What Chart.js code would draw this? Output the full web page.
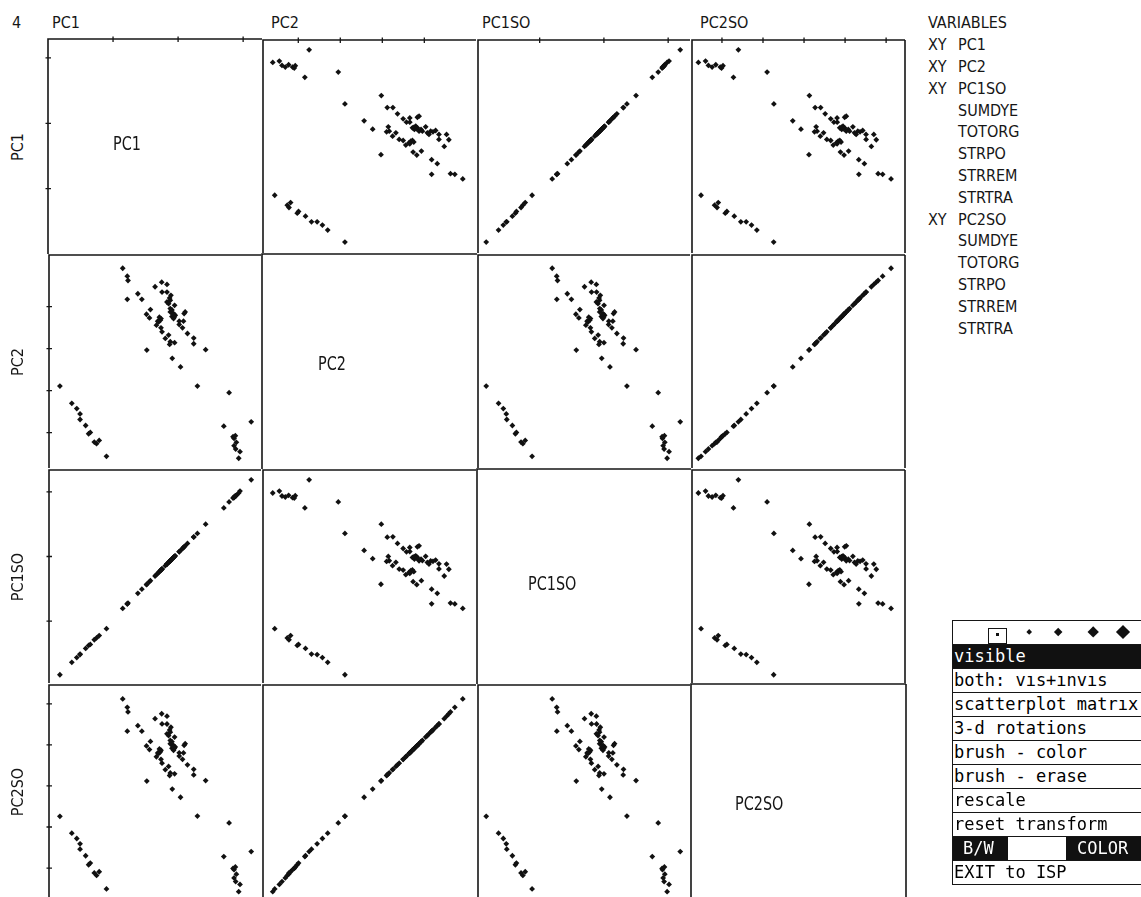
<!DOCTYPE html>
<html>
<head>
<meta charset="utf-8">
<script src="https://cdn.jsdelivr.net/npm/chart.js@4.4.1/dist/chart.umd.min.js"></script>
<style>
  html, body { margin: 0; padding: 0; background: #fff; width: 1141px; height: 897px; overflow: hidden; }
  #stage { position: relative; width: 1141px; height: 897px; overflow: hidden; }
  #stage canvas { position: absolute; }
  .t { position: absolute; white-space: nowrap; color: #161616;
       font-family: "DejaVu Sans Condensed", "Liberation Sans Narrow", "DejaVu Sans", sans-serif;
       font-size: 16px; line-height: 16px; }
  .rot { transform: translate(-50%, -50%) rotate(-90deg); }
  .diag { transform-origin: 0 100%; transform: scaleY(1.25); }
  .menu-row { position: absolute; box-sizing: border-box; border-top: 1.5px solid #161616;
              border-left: 1.5px solid #161616; overflow: hidden; background: #fff; }
  .menu-row span { position: absolute; white-space: nowrap;
       font-family: "DejaVu Sans Mono", "Liberation Mono", monospace; font-size: 17px; line-height: 17px; }
  .blk { background: #111; color: #fff; }
  .sym { position: absolute; background: #111; transform: rotate(45deg); }
</style>
</head>
<body>
<div id="stage"></div>
<script>
// ---- variables of the scatterplot matrix ----
const VARS = ['PC1', 'PC2', 'PC1SO', 'PC2SO'];

const PC1 = [
  0.944, 0.964, 0.897, 0.872, 0.908, 0.872, 0.856, 0.892, 1.138, 0.713, 0.795,
  -1.108, -1.262, -1.297, -1.221, -1.385, -1.359, -1.431, -1.518, -1.518, -1.569, -1.646, -1.831,
  0.303, 0.431, 0.246, 0.246, 0.149, 0.041, -0.087, 0.072, 0.021, 0.021, 0.087, 0.097, 0.113,
  -0.067, -0.092, -0.041, -0.067, -0.118, -0.056, -0.077, -0.092, -0.118, -0.051, -0.144, -0.169,
  -0.118, -0.128, -0.108, -0.169, -0.246, -0.169, -0.251, -0.354, -0.051, -0.118, -0.128, -0.195,
  -0.144, -0.246, -0.262, -0.333, -0.297, -0.272, -0.262, -0.287, -0.313, -0.482, -0.441, -0.487,
  -0.426, -0.559, -0.621, -0.785, -0.774, -0.785, -0.856
];
const PC2 = [
  -2.608, -2.451, -2.388, -2.309, -2.230, -2.136, -2.096, -2.072, -1.742, -1.844, -1.048,
  -2.561, -2.262, -2.222, -2.183, -2.025, -1.994, -1.828, -1.686, -1.552, -1.426, -1.300, -0.890,
  -0.890, -0.024, 0.118, 0.252, 0.362, -0.433, -0.229, 0.496, 0.575, 0.654, 0.654, 0.835, 0.875,
  0.717, 0.764, 0.796, 0.835, 0.875, 0.757, 0.812, 0.922, 0.954, 1.032, 1.072, 1.111,
  1.151, 1.206, 1.269, 1.348, 1.348, 1.529, 1.584, 1.474, 0.142, 0.165, 0.102, 0.244,
  0.323, 0.402, 0.496, 0.559, 0.638, 0.678, 0.717, 0.749, 0.654, -0.032, 0.733, 0.820,
  0.930, 1.174, 1.308, 1.174, 1.623, 1.726, 1.915
];
const PC1SO = [
  0.984, 1.014, 0.937, 0.922, 0.948, 0.912, 0.906, 0.942, 1.188, 0.753, 0.845,
  -1.118, -1.262, -1.290, -1.225, -1.378, -1.362, -1.425, -1.512, -1.520, -1.566, -1.640, -1.832,
  0.358, 0.500, 0.300, 0.305, 0.202, 0.094, -0.034, 0.124, 0.073, 0.076, 0.139, 0.150, 0.166,
  -0.015, -0.040, 0.011, -0.013, -0.066, -0.003, -0.024, -0.041, -0.064, 0.002, -0.092, -0.117,
  -0.068, -0.075, -0.056, -0.114, -0.193, -0.118, -0.198, -0.302, 0.001, -0.066, -0.077, -0.143,
  -0.090, -0.195, -0.210, -0.281, -0.245, -0.220, -0.209, -0.236, -0.262, -0.430, -0.390, -0.436,
  -0.374, -0.506, -0.570, -0.733, -0.722, -0.735, -0.805
];
const PC2SO = [
  -2.575, -2.400, -2.330, -2.240, -2.150, -2.040, -2.010, -1.975, -1.600, -1.720, -0.900,
  -2.510, -2.180, -2.120, -2.090, -1.920, -1.880, -1.700, -1.540, -1.410, -1.280, -1.150, -0.740,
  -0.735, 0.130, 0.270, 0.405, 0.515, -0.275, -0.075, 0.650, 0.728, 0.808, 0.805, 0.990, 1.030,
  0.870, 0.918, 0.950, 0.988, 1.028, 0.910, 0.965, 1.078, 1.110, 1.190, 1.230, 1.270,
  1.310, 1.365, 1.430, 1.510, 1.512, 1.700, 1.760, 1.640, 0.295, 0.318, 0.255, 0.397,
  0.476, 0.555, 0.650, 0.712, 0.792, 0.832, 0.871, 0.902, 0.806, 0.120, 0.887, 0.975,
  1.086, 1.334, 1.470, 1.336, 1.805, 1.915, 2.120
];

// axis extents and tick marks of each variable
const PC1_RANGE = [-2.00, 1.29];
const PC2_RANGE = [-2.84, 2.23];
const PC1SO_RANGE = [-1.96, 1.34];
const PC2SO_RANGE = [-2.73, 2.46];
const PC1_TICKS = [-1, 0, 1];
const PC2_TICKS = [-2, -1, 0, 1];
const PC1SO_TICKS = [-1, 0, 1];
const PC2SO_TICKS = [-2, -1, 0, 1, 2];

// side panel text
const VARIABLE_LIST = [
  ['XY', 'PC1'], ['XY', 'PC2'], ['XY', 'PC1SO'],
  ['', 'SUMDYE'], ['', 'TOTORG'], ['', 'STRPO'], ['', 'STRREM'], ['', 'STRTRA'],
  ['XY', 'PC2SO'],
  ['', 'SUMDYE'], ['', 'TOTORG'], ['', 'STRPO'], ['', 'STRREM'], ['', 'STRTRA']
];
const MENU_ITEMS = [
  'visible', 'both: vıs+ınvıs', 'scatterplot matrıx', '3-d rotations',
  'brush - color', 'brush - erase', 'rescale', 'reset transform'
];

const SERIES = { PC1, PC2, PC1SO, PC2SO };
const RANGES = { PC1: PC1_RANGE, PC2: PC2_RANGE, PC1SO: PC1SO_RANGE, PC2SO: PC2SO_RANGE };
const TICKS = { PC1: PC1_TICKS, PC2: PC2_TICKS, PC1SO: PC1SO_TICKS, PC2SO: PC2SO_TICKS };

// ---- layout of the matrix ----
const COL_X = [48, 262, 477, 691, 906];
const ROW_Y = [39, 254, 469, 684, 899];
const PAD = 3;
const INK = '#161616';
const stage = document.getElementById('stage');

function text(str, x, baseline, cls, size) {
  const d = document.createElement('div');
  d.className = 't' + (cls ? ' ' + cls : '');
  d.textContent = str;
  const fs = size || 16;
  d.style.left = x + 'px';
  d.style.top = (baseline - 0.846 * fs) + 'px';
  stage.appendChild(d);
  return d;
}

// frame lines, inward tick marks and diagonal names
const framePlugin = {
  id: 'frame',
  afterDraw(chart, args, o) {
    const { ctx, chartArea: a, scales } = chart;
    ctx.save();
    ctx.strokeStyle = INK;
    ctx.lineWidth = 1.6;
    ctx.beginPath();
    ctx.moveTo(a.left, a.bottom); ctx.lineTo(a.left, a.top); ctx.lineTo(a.right, a.top);
    if (o.lastCol) { ctx.moveTo(a.right, a.top); ctx.lineTo(a.right, a.bottom); }
    ctx.stroke();
    ctx.lineWidth = 1.3;
    ctx.beginPath();
    (o.topTicks || []).forEach(v => {
      const x = scales.x.getPixelForValue(v);
      ctx.moveTo(x, a.top - 2.5); ctx.lineTo(x, a.top + 3);
    });
    (o.leftTicks || []).forEach(v => {
      const y = scales.y.getPixelForValue(v);
      ctx.moveTo(a.left - 2.5, y); ctx.lineTo(a.left + 3, y);
    });
    ctx.stroke();
    ctx.restore();
  }
};

for (let r = 0; r < 4; r++) {
  for (let c = 0; c < 4; c++) {
    const xv = VARS[c], yv = VARS[r];
    const w = COL_X[c + 1] - COL_X[c] + 2 * PAD;
    const h = ROW_Y[r + 1] - ROW_Y[r] + 2 * PAD;
    const cv = document.createElement('canvas');
    cv.width = w; cv.height = h;
    cv.style.left = (COL_X[c] - PAD) + 'px';
    cv.style.top = (ROW_Y[r] - PAD) + 'px';
    cv.style.width = w + 'px'; cv.style.height = h + 'px';
    stage.appendChild(cv);

    const pts = r === c ? [] : SERIES[xv].map((v, i) => ({ x: v, y: SERIES[yv][i] }));

    new Chart(cv.getContext('2d'), {
      type: 'scatter',
      data: {
        datasets: [{
          data: pts,
          pointStyle: 'rectRot',
          pointRadius: 2.9,
          pointBackgroundColor: '#111',
          pointBorderWidth: 0,
          showLine: false
        }]
      },
      options: {
        responsive: false,
        animation: false,
        devicePixelRatio: 1,
        layout: { padding: PAD },
        events: [],
        scales: {
          x: { type: 'linear', display: false, min: RANGES[xv][0], max: RANGES[xv][1] },
          y: { type: 'linear', display: false, min: RANGES[yv][0], max: RANGES[yv][1] }
        },
        plugins: {
          legend: { display: false },
          tooltip: { enabled: false },
          frame: {
            lastCol: c === 3,
            topTicks: r === 0 ? TICKS[xv] : null,
            leftTicks: c === 0 ? TICKS[yv] : null
          }
        }
      },
      plugins: [framePlugin]
    });
  }
}

// ---- names around the matrix ----
text('4', 12, 29);
const HEAD_X = [52, 271, 482, 700];
VARS.forEach((v, i) => text(v, HEAD_X[i], 29));

VARS.forEach((v, i) => {
  const d = text(v, 18, 0, 'rot');
  d.style.top = ((ROW_Y[i] + ROW_Y[i + 1]) / 2) + 'px';
});

const DIAG_POS = [[113, 151], [318, 371], [528, 591], [735, 811]];
VARS.forEach((v, i) => {
  const d = text(v, DIAG_POS[i][0], DIAG_POS[i][1], 'diag');
  d.style.top = (DIAG_POS[i][1] - 13.5) + 'px';
});

// ---- variable list ----
text('VARIABLES', 928, 29);
VARIABLE_LIST.forEach((row, i) => {
  const base = 29 + 21.8 * (i + 1);
  if (row[0]) text(row[0], 928, base);
  text(row[1], 958, base);
});

// ---- menu panel ----
const MENU_X = 952, MENU_Y = 620, MENU_H = 24, MENU_W = 200;
function menuRow(k) {
  const d = document.createElement('div');
  d.className = 'menu-row';
  d.style.left = MENU_X + 'px';
  d.style.top = (MENU_Y + MENU_H * k) + 'px';
  d.style.width = MENU_W + 'px';
  d.style.height = (MENU_H + 1) + 'px';
  stage.appendChild(d);
  return d;
}
function menuText(row, str, x, cls) {
  const s = document.createElement('span');
  s.textContent = str;
  s.style.left = x + 'px';
  s.style.top = '3px';
  if (cls) s.className = cls;
  row.appendChild(s);
  return s;
}

// marker size selector
const symRow = menuRow(0);
const box = document.createElement('div');
box.style.cssText = 'position:absolute;left:35px;top:7px;width:19px;height:16px;box-sizing:border-box;border:1.3px solid #161616;';
symRow.appendChild(box);
const dot = document.createElement('div');
dot.style.cssText = 'position:absolute;left:43px;top:12px;width:3px;height:3px;background:#111;';
symRow.appendChild(dot);
[[76, 2.2], [105, 3.2], [140, 4.2], [170, 5.0]].forEach(([cx, s]) => {
  const q = document.createElement('div');
  q.className = 'sym';
  q.style.left = (cx - s) + 'px';
  q.style.top = (11 - s) + 'px';
  q.style.width = (2 * s) + 'px';
  q.style.height = (2 * s) + 'px';
  symRow.appendChild(q);
});

MENU_ITEMS.forEach((item, i) => {
  const row = menuRow(i + 1);
  if (i === 0) row.classList.add('blk');
  menuText(row, item, 1);
});

const bw = menuRow(MENU_ITEMS.length + 1);
const left = document.createElement('div');
left.style.cssText = 'position:absolute;left:0;top:0;width:55px;height:100%;background:#111;';
bw.appendChild(left);
const right = document.createElement('div');
right.style.cssText = 'position:absolute;left:113px;top:0;width:100px;height:100%;background:#111;';
bw.appendChild(right);
menuText(bw, 'B/W', 10).style.color = '#fff';
menuText(bw, 'COLOR', 124).style.color = '#fff';

const exitRow = menuRow(MENU_ITEMS.length + 2);
exitRow.style.borderBottom = '1.5px solid #161616';
menuText(exitRow, 'EXIT to ISP', 1);
</script>
</body>
</html>
